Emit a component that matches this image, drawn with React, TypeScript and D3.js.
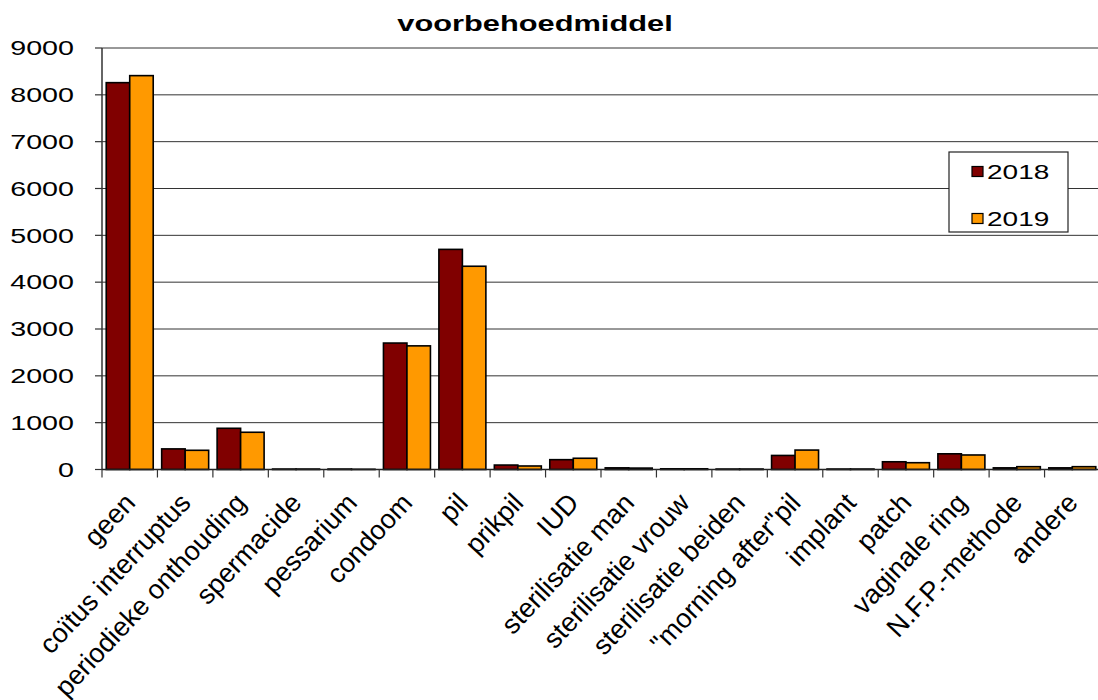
import React from "react";
import * as d3 from "d3";

const categories = [
  "geen",
  "coïtus interruptus",
  "periodieke onthouding",
  "spermacide",
  "pessarium",
  "condoom",
  "pil",
  "prikpil",
  "IUD",
  "sterilisatie man",
  "sterilisatie vrouw",
  "sterilisatie beiden",
  "\"morning after\"pil",
  "implant",
  "patch",
  "vaginale ring",
  "N.F.P.-methode",
  "andere",
];

const values2018 = [8260, 440, 880, 10, 10, 2700, 4700, 95, 210, 35, 15, 10, 300, 10, 165, 335, 35, 35];
const values2019 = [8410, 410, 795, 10, 5, 2640, 4340, 75, 240, 30, 15, 10, 415, 10, 145, 310, 60, 60];

const seriesNames = ["2018", "2019"];
const seriesColors = ["#800000", "#FF9900"];
const yTicks = [0, 1000, 2000, 3000, 4000, 5000, 6000, 7000, 8000, 9000];

const W = 1098;
const H = 700;
const FONT = "Arial, 'Liberation Sans', sans-serif";
const SX = 1.4; // horizontal stretch of upright text

export default function App() {
  const left = 102;
  const right = 1100;
  const top = 48;
  const bottom = 469.5;

  const x = d3.scaleBand<string>().domain(categories).range([left, right]).padding(0);
  const inner = d3
    .scaleBand<string>()
    .domain(seriesNames)
    .range([0, x.bandwidth()])
    .paddingInner(0)
    .paddingOuter(0.18);
  const y = d3.scaleLinear().domain([0, 9000]).range([bottom, top]);

  const series = [values2018, values2019];
  const boundaries = [...categories.map((c) => x(c) as number), right];

  return (
    <svg
      width={W}
      height={H}
      style={{ position: "absolute", left: 0, top: 0, background: "#fff" }}
      fontFamily={FONT}
    >
      <rect x={0} y={0} width={W} height={H} fill="#fff" />

      {/* title */}
      <text
        transform={`translate(535,31) scale(${SX},1)`}
        textAnchor="middle"
        fontSize={22}
        fontWeight="bold"
        fill="#000"
      >
        voorbehoedmiddel
      </text>

      {/* gridlines */}
      {yTicks.slice(1).map((t) => (
        <line key={t} x1={left} x2={W} y1={y(t)} y2={y(t)} stroke="#333" strokeWidth={1} />
      ))}

      {/* bars */}
      {categories.map((c, i) => (
        <g key={c}>
          {series.map((vals, s) => {
            const bx = (x(c) as number) + (inner(seriesNames[s]) as number);
            const by = y(vals[i]);
            return (
              <rect
                key={s}
                x={bx}
                y={by}
                width={inner.bandwidth()}
                height={Math.max(0, bottom - by)}
                fill={seriesColors[s]}
                stroke="#000"
                strokeWidth={1.6}
              />
            );
          })}
        </g>
      ))}

      {/* axes */}
      <line x1={left} x2={left} y1={top} y2={bottom} stroke="#333" strokeWidth={1.5} />
      <line x1={left} x2={W} y1={bottom} y2={bottom} stroke="#222" strokeWidth={1.5} />
      {yTicks.map((t) => (
        <g key={t}>
          <line x1={left - 7} x2={left} y1={y(t)} y2={y(t)} stroke="#333" strokeWidth={1.2} />
          <text
            transform={`translate(74,${y(t) + 7.3}) scale(${SX},1)`}
            textAnchor="end"
            fontSize={20.5}
            fill="#000"
          >
            {t}
          </text>
        </g>
      ))}
      {boundaries.map((bx, i) => (
        <line key={i} x1={bx} x2={bx} y1={bottom} y2={bottom + 8} stroke="#333" strokeWidth={1.2} />
      ))}

      {/* category labels */}
      {categories.map((c) => {
        const cx = (x(c) as number) + x.bandwidth() / 2 + 7;
        return (
          <text
            key={c}
            transform={`translate(${cx},504) rotate(-47)`}
            textAnchor="end"
            fontSize={27}
            fill="#000"
          >
            {c}
          </text>
        );
      })}

      {/* legend */}
      <g>
        <rect x={949} y={152} width={119} height={80} fill="#fff" stroke="#222" strokeWidth={1.2} />
        {seriesNames.map((name, s) => (
          <g key={name} transform={`translate(0,${s * 47})`}>
            <rect x={972} y={166.5} width={11} height={10} fill={seriesColors[s]} stroke="#000" strokeWidth={1.2} />
            <text transform={`translate(987,179) scale(${SX},1)`} fontSize={20} fill="#000">
              {name}
            </text>
          </g>
        ))}
      </g>
    </svg>
  );
}
